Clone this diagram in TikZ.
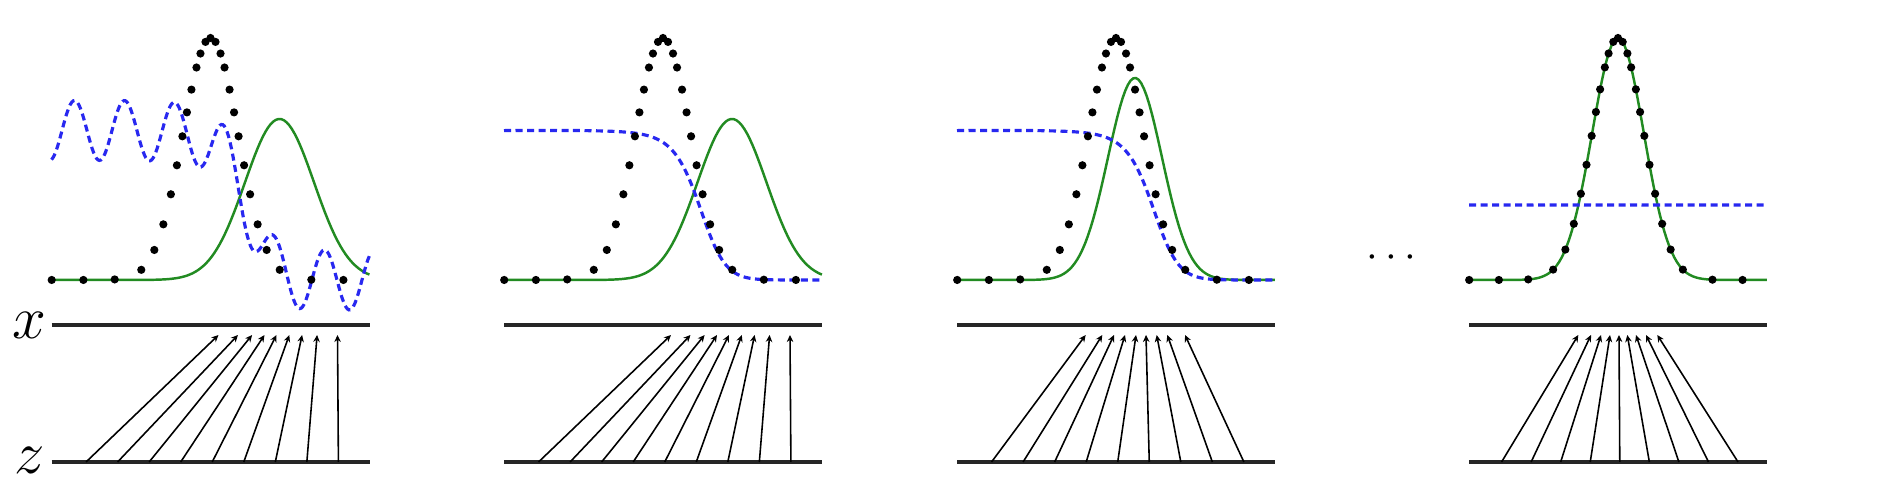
\documentclass[tikz,border=0pt]{standalone}
\usepackage{amsmath}
\usepackage{xcolor}
\usepackage{tikz}
\usetikzlibrary{arrows.meta}
\definecolor{gencol}{RGB}{34,139,34}
\definecolor{disccol}{RGB}{40,40,240}

\begin{document}
\begin{tikzpicture}[
		declare function={
			gau(\x,\m,\s,\a)=\a*exp(max(-9,0-((\x-\m)*(\x-\m))/(2*\s*\s)));
			dsc(\x,\m,\s,\g,\h,\a)=1/(1+exp(min(9,max(-9,ln(\a/2.42)-((\x-\g)*(\x-\g))/(2*\h*\h)+((\x-\m)*(\x-\m))/(2*\s*\s)))));
		},
		axisline/.style={line width=0.9pt,black!85},
		pdata/.style={fill=black},
		pgen/.style={gencol,line width=0.7pt},
		disc/.style={disccol,line width=0.9pt,dash pattern=on 0.7mm off 0.45mm},
		zmap/.style={->,>={Stealth[length=0.7mm,width=0.65mm]},line width=0.45pt},
		varlab/.style={font=\fontsize{16.5}{18}\selectfont,anchor=east,inner sep=0pt}
	]
		\useasboundingbox (0,0) rectangle (18.78,4.94);
		%
		\node[varlab] (xlab) at (0.47,1.69) {$x$};
		\node[varlab] (zlab) at (0.46,0.335) {$z$};
		\node[anchor=base,inner sep=0pt] (dots) at (13.95,2.263) {\fontsize{11.5}{12}\selectfont$\cdots$};
		%
		% panel: shift / width / data sigma / p_g (mean, sigma, peak) / p_g seen by D / wiggle / G(z)
		\foreach \n/\px/\w/\sd/\gm/\gs/\ga/\dm/\ds/\da/\wa/\tips in {
			1/0.515/3.18/0.275/2.28/0.345/1.61/2.28/0.345/1.61/0.3/{1.67,1.865,2.006,2.13,2.25,2.378,2.506,2.656,2.86},
			2/5.04/3.18/0.275/2.28/0.345/1.61/2.28/0.345/1.61/0/{1.67,1.865,2.006,2.13,2.25,2.378,2.506,2.656,2.86},
			3/9.57/3.18/0.275/1.78/0.27/2.02/2.28/0.345/1.61/0/{1.287,1.453,1.57,1.68,1.79,1.89,1.997,2.103,2.28},
			4/14.69/2.98/0.2585/1.49/0.2585/2.42/1.49/0.2585/2.42/0/{1.093,1.22,1.32,1.41,1.50,1.583,1.67,1.77,1.883}}
		{
		\begin{scope}[xshift=\px cm]
			\pgfmathsetmacro\md{\w/2}
			\pgfmathsetmacro\k{\w/3.17}
			% x and z axes
			\draw[axisline] (0,1.69) -- (\w,1.69);
			\draw[axisline] (0,0.32) -- (\w,0.32);
			% generative distribution
			\draw[pgen] plot[domain=0:\w,samples=120] (\x,{2.14+gau(\x,\gm,\gs,\ga)});
			% discriminative distribution
			\draw[disc] plot[domain=0:\w,samples=220] (\x,{2.14+1.5*dsc(\x,\md,\sd,\dm,\ds,\da)+\wa*cos(720*(\x-0.23))});
			% data distribution
			\foreach \d in {-1.583,-1.267,-0.955,-0.69,-0.56,-0.47,-0.395,-0.335,-0.28,-0.235,-0.19,-0.14,-0.10,-0.05,0,
					0.05,0.10,0.14,0.19,0.235,0.28,0.335,0.395,0.47,0.56,0.69,1.005,1.325}
				\fill[pdata] ({\md+\k*\d},{2.14+gau(\md+\k*\d,\md,\sd,2.42)}) circle (0.041);
			% mapping x = G(z)
			\foreach \tp [count=\i] in \tips {
				\coordinate (z\n-\i) at ({0.03+0.0992*\w*\i},0.32);
				\coordinate (x\n-\i) at (\tp,1.59);
				\path[zmap] (z\n-\i) edge (x\n-\i);
			}
		\end{scope}
		}
\end{tikzpicture}
\end{document}
